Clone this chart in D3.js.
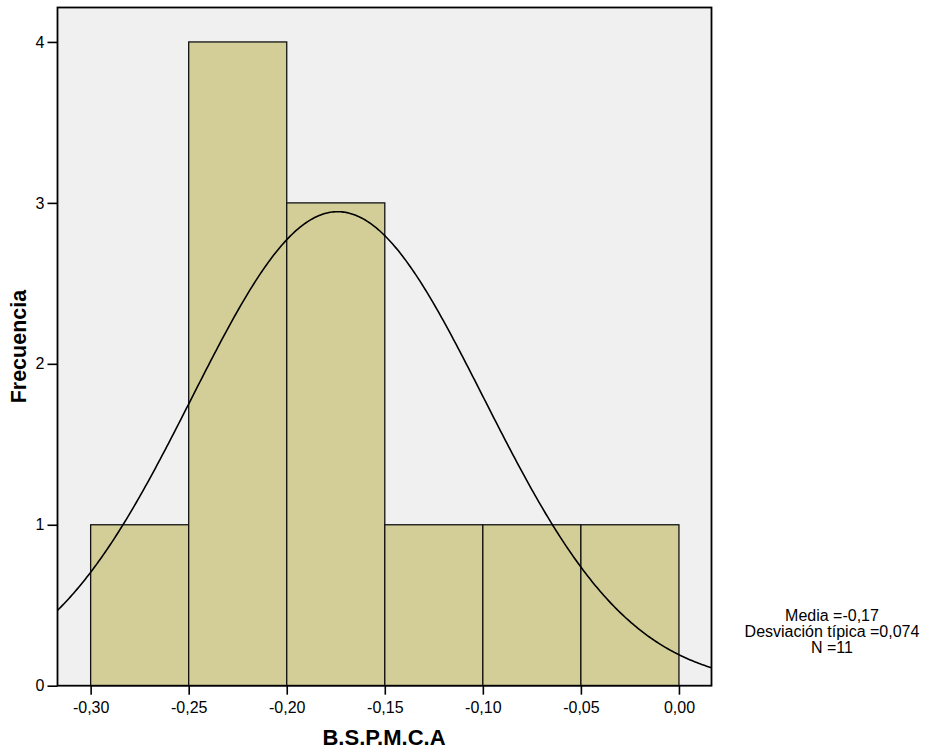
<!DOCTYPE html>
<html>
<head>
<meta charset="utf-8">
<script src="https://cdn.jsdelivr.net/npm/d3@7"></script>
<style>
  html, body { margin: 0; padding: 0; background: #ffffff; }
  svg { display: block; font-family: "Liberation Sans", Arial, sans-serif; }
</style>
</head>
<body>
<svg id="chart" width="926" height="751"></svg>
<script>
// Histogram bins (lower edge, upper edge) and their counts
const binStarts = [-0.30, -0.25, -0.20, -0.15, -0.10, -0.05];
const binEnds   = [-0.25, -0.20, -0.15, -0.10, -0.05, 0.00];
const counts    = [1, 4, 3, 1, 1, 1];

// Tick values and their labels
const xTicks = [-0.30, -0.25, -0.20, -0.15, -0.10, -0.05, 0.00];
const xTickLabels = ["-0,30", "-0,25", "-0,20", "-0,15", "-0,10", "-0,05", "0,00"];
const yTicks = [0, 1, 2, 3, 4];

// Summary statistics for the fitted normal curve
const mean = -0.174;
const sd = 0.0745;
const n = 11;
const binWidth = 0.05;
const statsLines = ["Media =-0,17", "Desviación típica =0,074", "N =11"];

const svg = d3.select("#chart");
const plot = { left: 57.5, right: 711.5, top: 7.5, bottom: 685.7 };

const x = d3.scaleLinear().domain([-0.3169, 0.0166]).range([plot.left, plot.right]);
const y = d3.scaleLinear().domain([0, 4.214]).range([plot.bottom, plot.top]);

// Plot background
svg.append("rect")
  .attr("x", plot.left).attr("y", plot.top)
  .attr("width", plot.right - plot.left).attr("height", plot.bottom - plot.top)
  .attr("fill", "#f0f0f0");

const clip = svg.append("clipPath").attr("id", "plotclip")
  .append("rect")
  .attr("x", plot.left).attr("y", plot.top)
  .attr("width", plot.right - plot.left).attr("height", plot.bottom - plot.top);

// Bars
svg.append("g").selectAll("rect")
  .data(counts)
  .join("rect")
  .attr("x", (d, i) => x(binStarts[i]))
  .attr("y", d => y(d))
  .attr("width", (d, i) => x(binEnds[i]) - x(binStarts[i]))
  .attr("height", d => y(0) - y(d))
  .attr("fill", "#d3ce98")
  .attr("stroke", "#111")
  .attr("stroke-width", 1.3);

// Normal density scaled to counts
const curveXs = d3.range(0, 401).map(i => -0.3169 + i * (0.0166 + 0.3169) / 400);
const density = v => n * binWidth / (sd * Math.sqrt(2 * Math.PI)) *
  Math.exp(-0.5 * Math.pow((v - mean) / sd, 2));
svg.append("path")
  .attr("clip-path", "url(#plotclip)")
  .attr("d", d3.line().x(v => x(v)).y(v => y(density(v)))(curveXs))
  .attr("fill", "none")
  .attr("stroke", "#000")
  .attr("stroke-width", 1.6);

// Frame
svg.append("rect")
  .attr("x", plot.left).attr("y", plot.top)
  .attr("width", plot.right - plot.left).attr("height", plot.bottom - plot.top)
  .attr("fill", "none")
  .attr("stroke", "#000")
  .attr("stroke-width", 1.8);

// Axes
const xAxis = d3.axisBottom(x)
  .tickValues(xTicks)
  .tickFormat((d, i) => xTickLabels[i])
  .tickSize(9).tickPadding(7);
const gx = svg.append("g")
  .attr("transform", `translate(0,${plot.bottom})`)
  .call(xAxis);
gx.select(".domain").remove();
gx.selectAll(".tick line").attr("stroke", "#000").attr("stroke-width", 1.6);
gx.selectAll(".tick text").attr("font-size", 16).attr("fill", "#000")
  .attr("font-family", "Liberation Sans, Arial, sans-serif");

const yAxis = d3.axisLeft(y)
  .tickValues(yTicks)
  .tickFormat(d3.format("d"))
  .tickSize(10).tickPadding(3);
const gy = svg.append("g")
  .attr("transform", `translate(${plot.left},0)`)
  .call(yAxis);
gy.select(".domain").remove();
gy.selectAll(".tick line").attr("stroke", "#000").attr("stroke-width", 1.6);
gy.selectAll(".tick text").attr("font-size", 16).attr("fill", "#000")
  .attr("font-family", "Liberation Sans, Arial, sans-serif");

// Axis titles
svg.append("text")
  .attr("x", (plot.left + plot.right) / 2 - 0.5)
  .attr("y", 745)
  .attr("text-anchor", "middle")
  .attr("font-size", 22)
  .attr("font-weight", "bold")
  .text("B.S.P.M.C.A");

svg.append("text")
  .attr("transform", `translate(25.5,${(plot.top + plot.bottom) / 2}) rotate(-90)`)
  .attr("text-anchor", "middle")
  .attr("font-size", 21.5)
  .attr("font-weight", "bold")
  .text("Frecuencia");

// Summary statistics
svg.append("g").selectAll("text")
  .data(statsLines)
  .join("text")
  .attr("x", 832)
  .attr("y", (d, i) => 620.5 + i * 16)
  .attr("text-anchor", "middle")
  .attr("font-size", 16)
  .text(d => d);
</script>
</body>
</html>
